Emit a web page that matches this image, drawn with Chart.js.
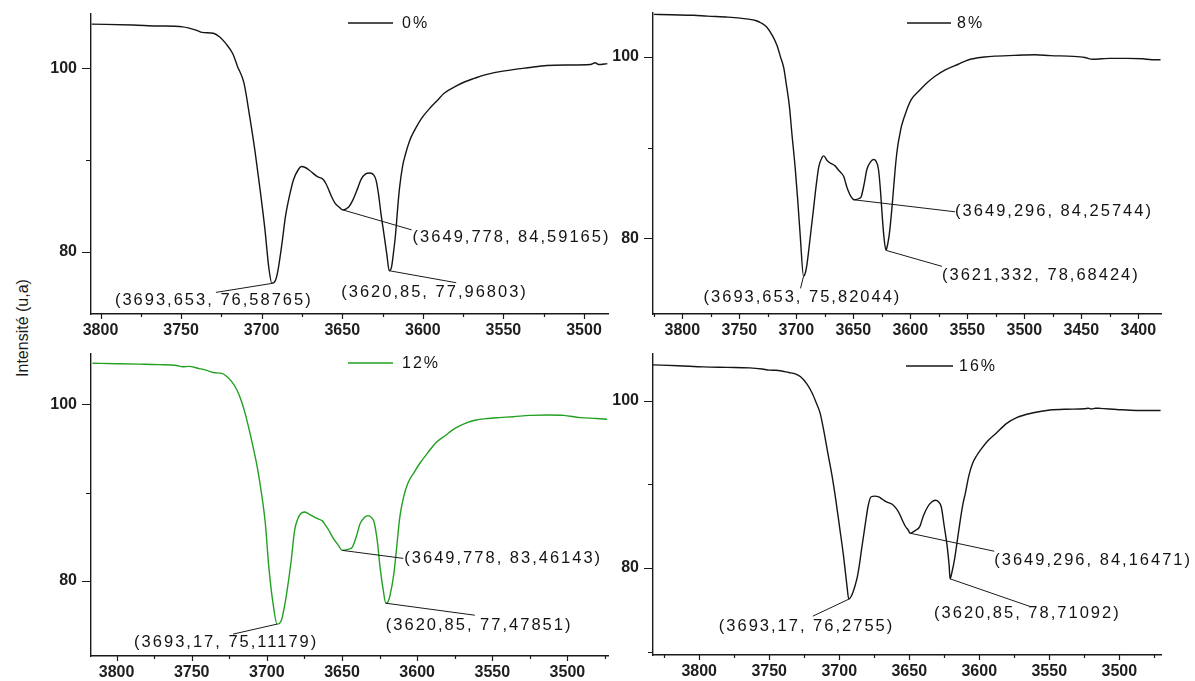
<!DOCTYPE html>
<html>
<head>
<meta charset="utf-8">
<script src="https://cdn.jsdelivr.net/npm/chart.js@4.4.1/dist/chart.umd.min.js"></script>
<style>
  html, body { margin: 0; padding: 0; background: #fff; }
  #wrap { position: relative; width: 1195px; height: 681px; overflow: hidden; background: #fff; }
  #wrap canvas { position: absolute; }
  #ytitle {
    position: absolute; left: 23px; top: 328px;
    transform: translate(-50%, -50%) rotate(-90deg);
    font: 16px "Liberation Sans", Arial, sans-serif; color: #1a1a1a; white-space: nowrap;
  }
</style>
</head>
<body>
<div id="wrap"><div id="ytitle">Intensité (u,a)</div></div>
<script>
// ---- FTIR spectra, OH stretching region (wavenumber in cm-1, intensity in u.a.) ----
const seriesLabels = ['0%', '8%', '12%', '16%'];

const wave0 = [3805.5, 3780, 3765, 3749, 3740, 3737, 3730, 3726, 3722.3, 3718, 3715, 3711, 3707.4, 3704, 3701.2, 3698, 3695.5,
  3693.653, 3691.5, 3690, 3687.5, 3685.2, 3682.5, 3680.2, 3677.5, 3675.3, 3673, 3670.4, 3665.4, 3661.8, 3660, 3658, 3656, 3654.4, 3652,
  3649.778, 3646, 3643.3, 3640.5, 3638.3, 3635.5, 3633, 3630.5, 3629, 3627.5, 3626, 3624, 3622.3,
  3620.85, 3619.5, 3618.3, 3617, 3615.5, 3614.5, 3612.5, 3611, 3608, 3605, 3601, 3596.4, 3591, 3586.6, 3580, 3574.2, 3568, 3562,
  3553, 3544, 3535, 3523, 3510, 3496, 3493, 3491, 3485.5];
const trans0 = [104.8, 104.7, 104.6, 104.5, 104.1, 103.9, 103.8, 103.4, 102.7, 101.6, 100.2, 98.4, 94.7, 90.8, 87.1, 82.5, 78.2,
  76.58765, 76.9, 77.9, 80.8, 83.9, 86.3, 87.9, 88.9, 89.3, 89.2, 88.9, 88.2, 87.9, 87.4, 86.6, 85.8, 85.3, 84.9,
  84.59165, 84.9, 85.7, 86.9, 87.9, 88.5, 88.6, 88.4, 87.8, 86.3, 84.2, 81.8, 79.7,
  77.96803, 78.3, 79.8, 81.8, 85.0, 86.9, 89.4, 90.5, 92.2, 93.3, 94.5, 95.5, 96.5, 97.3, 98.0, 98.5, 98.9, 99.25,
  99.6, 99.85, 100.05, 100.3, 100.35, 100.4, 100.6, 100.4, 100.5];

const wave8 = [3825, 3810, 3790, 3778, 3760, 3744, 3735, 3730.8, 3726, 3720.7, 3717, 3714, 3711, 3708.9, 3706, 3703.9, 3701, 3698.8, 3696.5,
  3693.653, 3692.3, 3690.8, 3689, 3687, 3685.3, 3682.5, 3680.3, 3677.5, 3675.9, 3673, 3670.1, 3666, 3663.4, 3660.5, 3658.3, 3656.5, 3654.9, 3652,
  3649.296, 3647, 3645, 3643.1, 3640.5, 3638.1, 3635, 3632.3, 3630, 3627.9, 3626, 3624.6, 3623,
  3621.332, 3620.5, 3619.5, 3618.5, 3617.5, 3616, 3614.5, 3612.7, 3611, 3609, 3607.7, 3603, 3599.2, 3592, 3585.8, 3578, 3568.9, 3558, 3548.7,
  3535, 3525, 3505, 3491, 3477, 3457, 3447, 3440, 3432, 3425, 3410, 3396, 3388, 3380.5];
const trans8 = [104.7, 104.65, 104.6, 104.5, 104.4, 104.2, 104.0, 103.75, 103.3, 102.3, 101.3, 100.07, 98.8, 97.1, 94.5, 91.6, 87.8, 84.3, 80.2,
  75.82044, 76.1, 77.0, 78.8, 81.0, 82.8, 85.9, 87.9, 88.9, 89.1, 88.6, 88.3, 88.0, 87.6, 87.2, 86.8, 86.0, 85.4, 84.6,
  84.25744, 84.3, 84.4, 84.6, 86.0, 87.6, 88.4, 88.7, 88.5, 87.6, 85.0, 82.4, 80.0,
  78.68424, 79.0, 79.6, 80.4, 81.5, 83.5, 85.8, 88.4, 90.2, 91.6, 92.4, 94.2, 95.3, 96.3, 97.1, 97.9, 98.6, 99.2, 99.7,
  100.0, 100.1, 100.2, 100.25, 100.15, 100.07, 99.95, 99.75, 99.8, 99.85, 99.85, 99.8, 99.7, 99.7];

const wave12 = [3816, 3800, 3785, 3772, 3760, 3756, 3752, 3745, 3740, 3735.6, 3730, 3727.7, 3723.5, 3719.8, 3717, 3714.5, 3712, 3709.2,
  3706.5, 3703.9, 3701, 3698.7, 3696,
  3693.17, 3691.5, 3690.2, 3688.5, 3686.8, 3684, 3681.5, 3679.5, 3677.5, 3675, 3672.2, 3667, 3663, 3661.7, 3659, 3656.4, 3654, 3652.5,
  3649.778, 3647.5, 3645.5, 3643.2, 3640.5, 3637.9, 3635, 3632.6, 3630.5, 3628.7, 3626.5, 3624.7, 3622.5,
  3620.85, 3619.5, 3618, 3615.5, 3613.5, 3611.5, 3609, 3606.3, 3602, 3598.3, 3593, 3587.8, 3581, 3574.6, 3568, 3561.4, 3553,
  3545.5, 3536, 3525, 3513, 3502.5, 3491.5, 3480.4, 3473.5];
const trans12 = [104.65, 104.6, 104.55, 104.5, 104.4, 104.25, 104.3, 104.05, 103.85, 103.6, 103.5, 103.3, 102.6, 101.6, 100.4, 99.0, 97.3, 95.2,
  93.0, 90.3, 86.5, 81.6, 77.6,
  75.11179, 75.2, 75.6, 76.9, 78.6, 82.0, 85.75, 87.0, 87.6, 87.8, 87.6, 87.1, 86.8, 86.5, 85.8, 85.0, 84.4, 84.05,
  83.46143, 83.5, 83.6, 83.8, 85.0, 86.5, 87.2, 87.4, 87.2, 86.7, 84.5, 81.6, 78.9,
  77.47851, 77.6, 78.4, 80.8, 84.0, 87.25, 89.5, 91.0, 92.3, 93.3, 94.5, 95.6, 96.5, 97.3, 97.85, 98.2, 98.4,
  98.5, 98.6, 98.75, 98.8, 98.75, 98.5, 98.4, 98.3];

const wave16 = [3833, 3815, 3797, 3780, 3764, 3755, 3750, 3745, 3736, 3731, 3727.6, 3723, 3719.2, 3716.5, 3713.6, 3711, 3708.1, 3705,
  3702.4, 3699.5, 3696.9, 3694.5,
  3693.17, 3691.5, 3690, 3688.5, 3687, 3685.5, 3684, 3682.5, 3681, 3679.5, 3677.4, 3674.5, 3671.8, 3669, 3666.2, 3662, 3659.2, 3657,
  3655, 3652.8, 3650.8,
  3649.296, 3647.5, 3645.5, 3642.5, 3640, 3636.9, 3634, 3631.3, 3629, 3627.1, 3625, 3622.9, 3621.5,
  3620.85, 3619.5, 3617.5, 3615.5, 3613.5, 3611.5, 3610, 3607.5, 3604.8, 3602, 3599.2, 3594, 3588.1, 3580.4, 3573.3, 3561.4,
  3549.5, 3537.6, 3525, 3522, 3520, 3517, 3513.8, 3501.9, 3487.6, 3470.5];
const trans16 = [104.3, 104.2, 104.06, 104.0, 103.94, 103.8, 103.67, 103.65, 103.39, 103.2, 102.87, 102.0, 100.88, 99.8, 98.5, 96.4, 93.7, 90.9,
  88.1, 84.6, 81.4, 77.9,
  76.2755, 76.6, 77.2, 78.0, 79.0, 80.5, 82.3, 84.0, 85.7, 87.3, 88.5, 88.6, 88.5, 88.2, 87.9, 87.6, 87.1, 86.5,
  85.75, 85.0, 84.55,
  84.16471, 84.3, 84.5, 84.95, 86.2, 87.3, 87.9, 88.1, 87.9, 87.3, 85.0, 82.6, 80.3,
  78.71092, 79.5, 81.2, 83.5, 85.8, 87.8, 88.9, 91.0, 92.5, 93.4, 94.1, 95.2, 96.1, 97.3, 98.0, 98.57,
  98.9, 99.0, 99.05, 99.12, 99.02, 99.12, 99.1, 98.97, 98.85, 98.85];

// labelled band minima (wavenumber, intensity)
const peaksX0 = [3693.653, 3649.778, 3620.85];
const peaksY0 = [76.58765, 84.59165, 77.96803];
const peaksX8 = [3693.653, 3649.296, 3621.332];
const peaksY8 = [75.82044, 84.25744, 78.68424];
const peaksX12 = [3693.17, 3649.778, 3620.85];
const peaksY12 = [75.11179, 83.46143, 77.47851];
const peaksX16 = [3693.17, 3649.296, 3620.85];
const peaksY16 = [76.2755, 84.16471, 78.71092];

// axis ticks
const xLabels4 = [3800, 3750, 3700, 3650, 3600, 3550, 3500];
const xLabels9 = [3800, 3750, 3700, 3650, 3600, 3550, 3500, 3450, 3400];
const xMinor = [3825, 3775, 3725, 3675, 3625, 3575, 3525, 3475, 3425, 3375];
const yLabels = [80, 100];
const yMinor = [70, 90];

// ---- panel layout ----
const panels = [
  { wave: wave0, trans: trans0, px: peaksX0, py: peaksY0, xl: xLabels4, color: '#151515',
    box: { left: 91, top: 14, right: 608, bottom: 314 }, xr: [3485.1, 3805.9], yr: [73.26, 105.9],
    legend: { x: 257, y: 9, len: 45, gap: 9 },
    callouts: [ { line: [-56, 9], text: [-157, 17] }, { line: [69, 20], text: [70, 28] }, { line: [67, 12], text: [-48, 22] } ] },
  { wave: wave8, trans: trans8, px: peaksX8, py: peaksY8, xl: xLabels9, color: '#151515',
    box: { left: 653, top: 13, right: 1161, bottom: 314 }, xr: [3380.1, 3825.7], yr: [71.67, 104.85],
    legend: { x: 254, y: 10, len: 44, gap: 6 },
    callouts: [ { line: [-3, 12], text: [-100, 21] }, { line: [101, 12], text: [101, 12] }, { line: [56, 16], text: [56, 25] } ] },
  { wave: wave12, trans: trans12, px: peaksX12, py: peaksY12, xl: xLabels4, color: '#22a022',
    box: { left: 91, top: 354, right: 608, bottom: 656 }, xr: [3473, 3817], yr: [71.5, 105.7],
    legend: { x: 257, y: 9, len: 45, gap: 9 },
    callouts: [ { line: [-44, 10], text: [-143, 18] }, { line: [61, 8], text: [62, 8] }, { line: [89, 12], text: [0, 22] } ] },
  { wave: wave16, trans: trans16, px: peaksX16, py: peaksY16, xl: xLabels4, color: '#151515',
    box: { left: 653, top: 354, right: 1161, bottom: 655 }, xr: [3470.2, 3833], yr: [69.6, 105.6],
    legend: { x: 253, y: 12, len: 47, gap: 6 },
    callouts: [ { line: [-36, 17], text: [-130, 27] }, { line: [84, 18], text: [84, 27] }, { line: [81, 28], text: [-16, 35] } ] }
];

const FONT = '"Liberation Sans", Arial, Helvetica, sans-serif';
const decimal = v => String(v).replace('.', ',');

// tick marks: long for labelled ticks, short for the others, pointing outwards
const tickMarks = {
  id: 'tickMarks',
  afterDraw(chart, args, o) {
    const { ctx, scales: { x, y } } = chart;
    ctx.save();
    ctx.strokeStyle = '#1a1a1a';
    ctx.lineWidth = 1.2;
    ctx.beginPath();
    x.ticks.forEach(t => {
      const p = Math.round(x.getPixelForValue(t.value)) + 0.5;
      const len = o.xMajor.includes(t.value) ? 5 : 3;
      ctx.moveTo(p, x.top); ctx.lineTo(p, x.top + len);
    });
    y.ticks.forEach(t => {
      const p = Math.round(y.getPixelForValue(t.value)) + 0.5;
      const len = o.yMajor.includes(t.value) ? 9 : 5;
      ctx.moveTo(y.right, p); ctx.lineTo(y.right - len, p);
    });
    ctx.stroke();
    ctx.restore();
  }
};

// point labels with leader lines, plus the in-plot legend entry
const callouts = {
  id: 'callouts',
  afterDatasetsDraw(chart, args, o) {
    const { ctx, chartArea: a, scales: { x, y } } = chart;
    ctx.save();
    ctx.font = '16.5px ' + FONT;
    ctx.letterSpacing = '2px';
    ctx.fillStyle = '#141414';
    ctx.strokeStyle = '#1a1a1a';
    ctx.lineWidth = 1;
    ctx.textBaseline = 'middle';
    ctx.textAlign = 'left';
    o.px.forEach((xv, i) => {
      const yv = o.py[i];
      const ax = x.getPixelForValue(xv), ay = y.getPixelForValue(yv);
      const c = o.layout[i];
      ctx.beginPath();
      ctx.moveTo(ax, ay);
      ctx.lineTo(ax + c.line[0], ay + c.line[1]);
      ctx.stroke();
      ctx.fillText('(' + decimal(xv) + ', ' + decimal(yv) + ')', ax + c.text[0], ay + c.text[1]);
    });
    const ds = chart.data.datasets[0];
    const lg = o.legend;
    ctx.strokeStyle = ds.borderColor;
    ctx.lineWidth = 1.4;
    ctx.beginPath();
    ctx.moveTo(a.left + lg.x, a.top + lg.y);
    ctx.lineTo(a.left + lg.x + lg.len, a.top + lg.y);
    ctx.stroke();
    ctx.font = '16px ' + FONT;
    ctx.letterSpacing = '2px';
    ctx.fillText(ds.label, a.left + lg.x + lg.len + lg.gap, a.top + lg.y + 1);
    ctx.restore();
  }
};

const wrap = document.getElementById('wrap');
const PAD_L = 60, PAD_T = 14, PAD_R = 34, PAD_B = 30;

panels.forEach((p, idx) => {
  const b = p.box;
  const cv = document.createElement('canvas');
  cv.width = (b.right - b.left) + PAD_L + PAD_R;
  cv.height = (b.bottom - b.top) + PAD_T + PAD_B;
  cv.style.left = (b.left - PAD_L) + 'px';
  cv.style.top = (b.top - PAD_T) + 'px';
  wrap.appendChild(cv);

  const xTicks = p.xl.concat(xMinor).filter(v => v >= p.xr[0] && v <= p.xr[1]).sort((m, n) => m - n);
  const yTicks = yLabels.concat(yMinor).filter(v => v >= p.yr[0] && v <= p.yr[1]).sort((m, n) => m - n);
  const tickFont = { family: FONT, size: 16, weight: 'bold' };

  new Chart(cv, {
    type: 'line',
    data: {
      datasets: [{
        label: seriesLabels[idx],
        data: p.wave.map((w, i) => ({ x: w, y: p.trans[i] })),
        borderColor: p.color,
        borderWidth: 1.4,
        pointRadius: 0,
        fill: false,
        cubicInterpolationMode: 'monotone'
      }]
    },
    options: {
      responsive: false,
      animation: false,
      devicePixelRatio: 1,
      layout: { padding: { left: 0, top: PAD_T, right: PAD_R, bottom: 0 } },
      plugins: {
        legend: { display: false },
        tooltip: { enabled: false },
        tickMarks: { xMajor: p.xl, yMajor: yLabels },
        callouts: { px: p.px, py: p.py, layout: p.callouts, legend: p.legend }
      },
      scales: {
        x: {
          type: 'linear', reverse: true, min: p.xr[0], max: p.xr[1],
          afterFit: s => { s.height = PAD_B; s.paddingLeft = 0; s.paddingRight = 0; },
          afterBuildTicks: s => { s.ticks = xTicks.map(v => ({ value: v })); },
          grid: { display: false, drawTicks: false },
          border: { display: true, color: '#1a1a1a', width: 1.4 },
          ticks: {
            autoSkip: false, maxRotation: 0, padding: 7, color: '#1e1e1e', font: tickFont,
            callback: v => (p.xl.includes(v) ? String(v) : '')
          }
        },
        y: {
          type: 'linear', min: p.yr[0], max: p.yr[1],
          afterFit: s => { s.width = PAD_L; s.paddingTop = 0; s.paddingBottom = 0; },
          afterBuildTicks: s => { s.ticks = yTicks.map(v => ({ value: v })); },
          grid: { display: false, drawTicks: false },
          border: { display: true, color: '#1a1a1a', width: 1.4 },
          ticks: {
            autoSkip: false, padding: 14, color: '#1e1e1e', font: tickFont,
            callback: v => (yLabels.includes(v) ? String(v) : '')
          }
        }
      }
    },
    plugins: [tickMarks, callouts]
  });
});
</script>
</body>
</html>
